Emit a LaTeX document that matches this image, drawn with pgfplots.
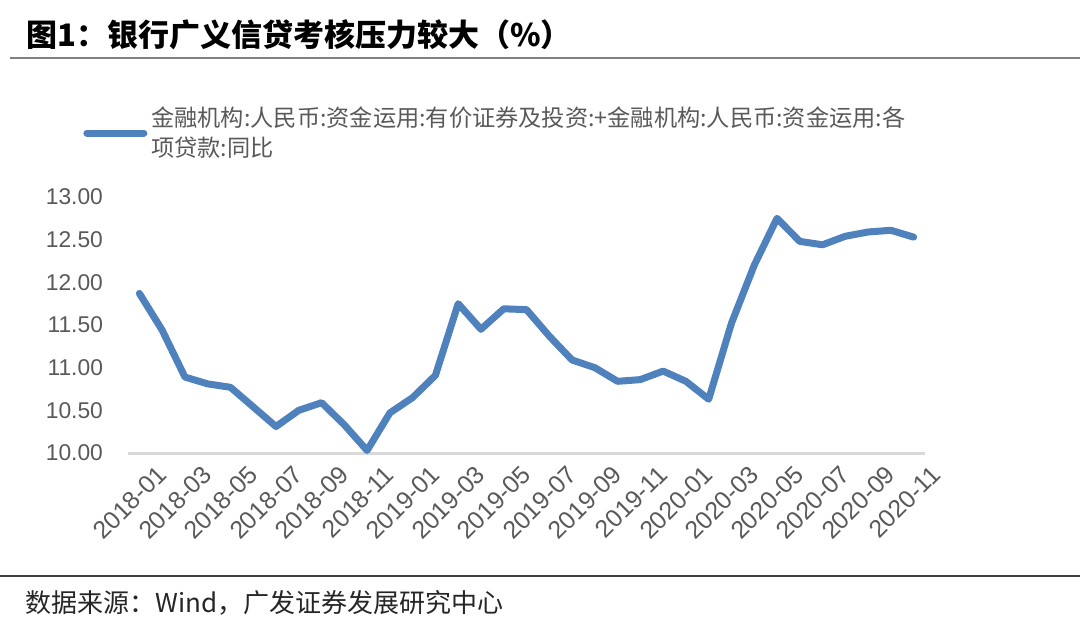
\documentclass[border=0pt]{standalone}
\usepackage{fontspec}
\usepackage{pgfplots}
\pgfplotsset{compat=1.18}
\setmainfont{Liberation Sans}
\newfontfamily\cjk{Noto Sans CJK SC}
\definecolor{lineblue}{RGB}{79,129,189}
\definecolor{ticktxt}{RGB}{89,89,89}
\definecolor{axgray}{RGB}{217,217,217}
\definecolor{rulegray}{RGB}{128,128,128}
\definecolor{rulebot}{RGB}{64,64,64}
\pgfplotstableread{
x y
0 11.87
1 11.44
2 10.89
3 10.81
4 10.77
5 10.54
6 10.31
7 10.50
8 10.59
9 10.33
10 10.03
11 10.47
12 10.65
13 10.91
14 11.75
15 11.45
16 11.69
17 11.68
18 11.37
19 11.09
20 11.00
21 10.84
22 10.86
23 10.96
24 10.84
25 10.63
26 11.52
27 12.20
28 12.75
29 12.48
30 12.44
31 12.54
32 12.59
33 12.61
34 12.53
}\datatable
\begin{document}
\begin{tikzpicture}
\useasboundingbox (0,0) rectangle (540pt,314pt);
% title
\node[anchor=west, inner sep=0pt, font={\cjk\bfseries\fontsize{15.5}{18}\selectfont}] at (13pt,296.5pt) {图1：银行广义信贷考核压力较大（\%）};
\draw[rulegray, line width=1pt] (5pt,285pt) -- (540pt,285pt);
% bottom rule and source
\draw[rulebot, line width=1pt] (0pt,26.25pt) -- (540pt,26.25pt);
\node[anchor=west, inner sep=0pt, text=black!85, font={\cjk\fontsize{13}{15}\selectfont}] at (12.5pt,12.5pt) {数据来源：Wind，广发证券发展研究中心};
\begin{axis}[
  at={(64pt,87.5pt)}, anchor=south west,
  width=398.5pt, height=128pt, scale only axis,
  xmin=-0.5, xmax=34.5, ymin=10, ymax=13,
  clip=false,
  axis x line*=bottom, axis y line*=left,
  x axis line style={draw=axgray, line width=1.5pt},
  y axis line style={draw=none},
  ytick={10,10.5,11,11.5,12,12.5,13},
  ytick style={draw=none},
  yticklabel style={text=ticktxt, font=\fontsize{11.4}{13}\selectfont, xshift=-9pt},
  /pgf/number format/.cd, fixed, fixed zerofill, precision=2, assume math mode=true,
  /pgfplots/.cd,
  xtick={0,2,...,34},
  xticklabels={2018-01,2018-03,2018-05,2018-07,2018-09,2018-11,2019-01,2019-03,2019-05,2019-07,2019-09,2019-11,2020-01,2020-03,2020-05,2020-07,2020-09,2020-11},
  major x tick style={draw=none},
  xticklabel style={text=ticktxt, font=\fontsize{12.4}{14}\selectfont, rotate=45, anchor=north east, inner sep=0.5pt, xshift=2.5pt, yshift=-9pt},
  extra x ticks={-0.5,1.5,...,33.5},
  extra x tick labels={},
  extra x tick style={tick align=outside, major tick length=3.5pt, tick style={draw=axgray, line width=1.2pt}},
  legend style={at={(-0.0565,1.37)}, anchor=north west, draw=none, fill=none, inner sep=0pt,
    font={\cjk\fontsize{11.6}{15}\selectfont}, text=ticktxt, cells={align=left}},
  legend cell align=left,
  legend image code/.code={\draw[#1, line cap=round] (0pt,0pt) -- (28.5pt,0pt);},
]
\addplot[lineblue, line width=3.5pt, line join=round, line cap=round] table[x=x,y=y] {\datatable};
\addlegendentry{金融机构:人民币:资金运用:有价证券及投资:+金融机构:人民币:资金运用:各\\项贷款:同比}
\end{axis}
\end{tikzpicture}
\end{document}
